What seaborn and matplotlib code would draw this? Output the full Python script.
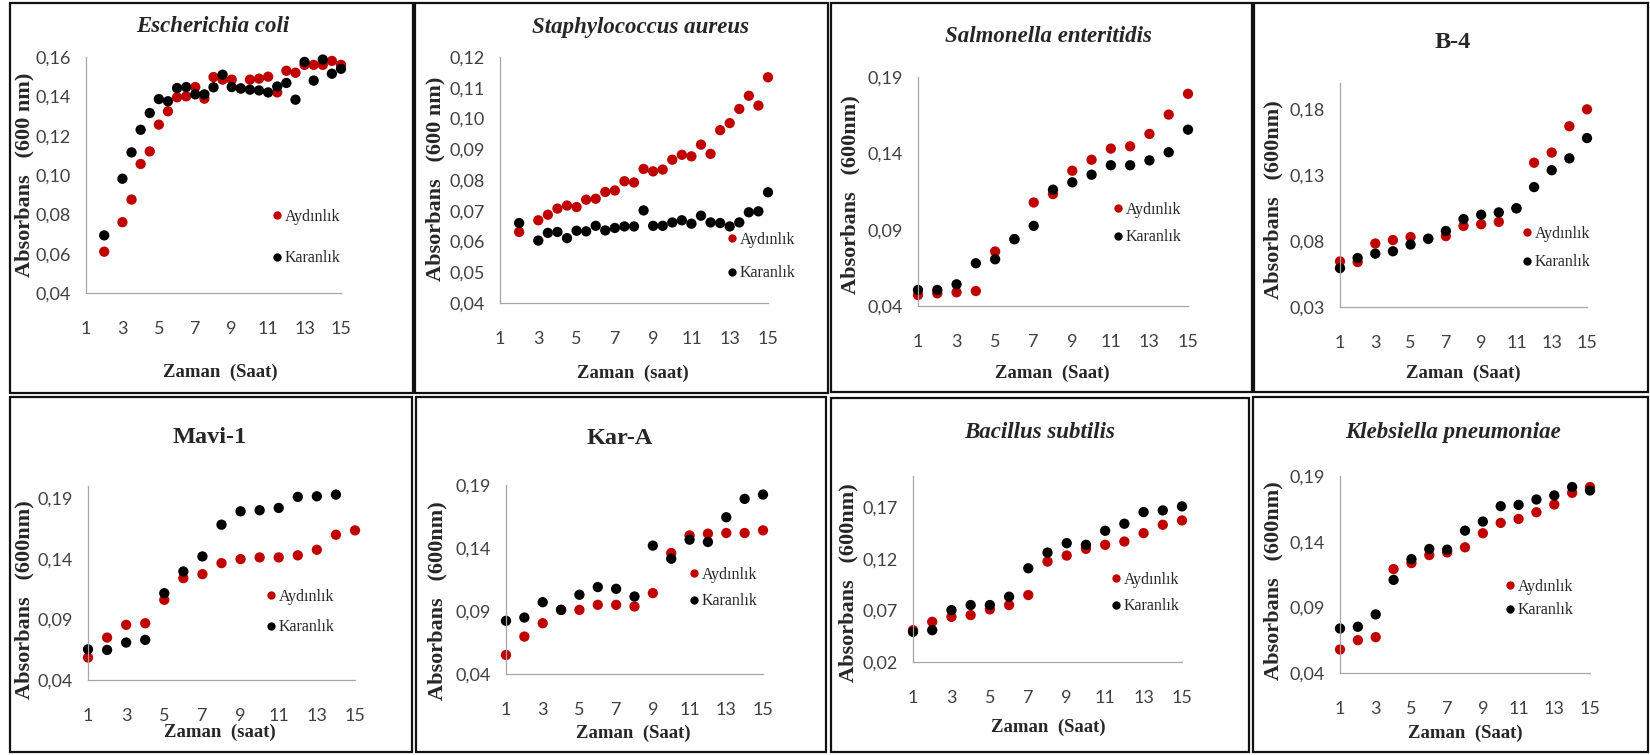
import matplotlib
matplotlib.use("Agg")
import matplotlib.pyplot as plt
import seaborn as sns
import pandas as pd
from matplotlib.lines import Line2D
from matplotlib.patches import Rectangle

# ---------------- data ----------------
half_hours = [2, 3, 3.5, 4, 4.5, 5, 5.5, 6, 6.5, 7, 7.5, 8, 8.5, 9, 9.5,
              10, 10.5, 11, 11.5, 12, 12.5, 13, 13.5, 14, 14.5, 15]
hours = [1, 2, 3, 4, 5, 6, 7, 8, 9, 10, 11, 12, 13, 14, 15]

ecoli_aydinlik = [0.061, 0.076, 0.0875, 0.1056, 0.112, 0.1256, 0.1324, 0.1395, 0.140, 0.1447,
                  0.1388, 0.1498, 0.1485, 0.1485, 0.144, 0.1485, 0.149, 0.150, 0.142, 0.153,
                  0.152, 0.156, 0.156, 0.156, 0.158, 0.156]
ecoli_karanlik = [0.0693, 0.0981, 0.1115, 0.123, 0.1315, 0.1386, 0.1375, 0.1442, 0.1447, 0.141,
                  0.141, 0.1446, 0.151, 0.1447, 0.144, 0.1434, 0.143, 0.142, 0.145, 0.1468,
                  0.1383, 0.1575, 0.148, 0.1587, 0.1515, 0.154]

saureus_aydinlik = [0.0631, 0.0669, 0.0687, 0.0707, 0.0717, 0.0712, 0.0736, 0.0739, 0.0761, 0.0766,
                    0.0796, 0.0792, 0.0836, 0.0828, 0.0834, 0.0866, 0.0882, 0.0877, 0.0915, 0.0885,
                    0.0962, 0.0985, 0.1031, 0.1074, 0.1042, 0.1134]
saureus_karanlik = [0.066, 0.0603, 0.0628, 0.0631, 0.0611, 0.0635, 0.0633, 0.0651, 0.0636, 0.0644,
                    0.0649, 0.0649, 0.0701, 0.0651, 0.0651, 0.0662, 0.0669, 0.0658, 0.0684, 0.0662,
                    0.066, 0.0649, 0.0662, 0.0695, 0.0698, 0.076]

salmonella_aydinlik = [0.0472, 0.0483, 0.049, 0.0498, 0.0757, 0.0838, 0.1078, 0.1133, 0.1286, 0.1358,
                       0.1431, 0.1446, 0.1527, 0.1654, 0.179]
salmonella_karanlik = [0.0505, 0.0505, 0.0542, 0.068, 0.0706, 0.0838, 0.0925, 0.1162, 0.121, 0.126,
                       0.1322, 0.1322, 0.1354, 0.1407, 0.1555]

b4_aydinlik = [0.0646, 0.0641, 0.0782, 0.0808, 0.0831, 0.0818, 0.0838, 0.0915, 0.0928, 0.0946,
               0.1049, 0.1395, 0.1472, 0.1672, 0.180]
b4_karanlik = [0.0595, 0.0672, 0.0705, 0.0723, 0.0774, 0.0818, 0.0877, 0.0967, 0.100, 0.1018,
               0.1049, 0.121, 0.1338, 0.1428, 0.1582]

mavi1_aydinlik = [0.0585, 0.075, 0.0855, 0.0868, 0.1061, 0.124, 0.1273, 0.1364, 0.1397, 0.1411,
                  0.1411, 0.1428, 0.1474, 0.1598, 0.1634]
mavi1_karanlik = [0.0653, 0.0648, 0.0709, 0.0731, 0.1116, 0.1295, 0.1419, 0.1681, 0.1791, 0.180,
                  0.1819, 0.191, 0.1915, 0.1929]

kara_aydinlik = [0.0551, 0.0697, 0.0803, 0.0909, 0.0909, 0.0949, 0.0949, 0.0936, 0.1042, 0.136,
                 0.150, 0.1514, 0.1519, 0.1519, 0.154]
kara_karanlik = [0.0822, 0.0848, 0.097, 0.0909, 0.1029, 0.109, 0.1076, 0.1015, 0.1419, 0.1315,
                 0.1466, 0.1448, 0.1644, 0.179, 0.1824]

bacillus_aydinlik = [0.0508, 0.0589, 0.0637, 0.0654, 0.0709, 0.0751, 0.0848, 0.1172, 0.123, 0.1295,
                     0.1334, 0.1366, 0.1447, 0.1528, 0.157]
bacillus_karanlik = [0.0492, 0.0508, 0.0702, 0.0751, 0.0751, 0.0832, 0.1107, 0.1259, 0.135, 0.1334,
                     0.147, 0.1538, 0.1651, 0.1667, 0.1706]

klebsiella_aydinlik = [0.0579, 0.065, 0.0673, 0.1191, 0.1237, 0.1298, 0.1318, 0.1357, 0.1464, 0.1543,
                       0.1573, 0.1624, 0.1683, 0.1772, 0.1816]
klebsiella_karanlik = [0.0739, 0.0752, 0.0846, 0.1109, 0.1267, 0.1344, 0.1339, 0.1484, 0.1553, 0.167,
                       0.168, 0.1721, 0.1752, 0.1816, 0.179]

titles = ["Escherichia coli", "Staphylococcus aureus", "Salmonella enteritidis", "B-4",
          "Mavi-1", "Kar-A", "Bacillus subtilis", "Klebsiella pneumoniae"]
title_italic = [True, True, True, False, False, False, True, True]
xlabels = ["Zaman  (Saat)", "Zaman  (saat)", "Zaman  (Saat)", "Zaman  (Saat)",
           "Zaman  (saat)", "Zaman  (Saat)", "Zaman  (Saat)", "Zaman  (Saat)"]
ylabels = ["Absorbans   (600 nm)", "Absorbans   (600 nm)", "Absorbans   (600nm)", "Absorbans   (600nm)",
           "Absorbans   (600nm)", "Absorbans   (600nm)", "Absorbans   (600nm)", "Absorbans   (600nm)"]
series_names = ["Aydınlık", "Karanlık"]
xtick_labels = ["1", "3", "5", "7", "9", "11", "13", "15"]
ytick_labels = [
    ["0,04", "0,06", "0,08", "0,10", "0,12", "0,14", "0,16"],
    ["0,04", "0,05", "0,06", "0,07", "0,08", "0,09", "0,10", "0,11", "0,12"],
    ["0,04", "0,09", "0,14", "0,19"],
    ["0,03", "0,08", "0,13", "0,18"],
    ["0,04", "0,09", "0,14", "0,19"],
    ["0,04", "0,09", "0,14", "0,19"],
    ["0,02", "0,07", "0,12", "0,17"],
    ["0,04", "0,09", "0,14", "0,19"],
]
y_limits = [(0.04, 0.16), (0.04, 0.12), (0.04, 0.19), (0.03, 0.20),
            (0.04, 0.20), (0.04, 0.19), (0.02, 0.20), (0.04, 0.19)]

panels = [
    (half_hours, ecoli_aydinlik, half_hours, ecoli_karanlik),
    (half_hours, saureus_aydinlik, half_hours, saureus_karanlik),
    (hours, salmonella_aydinlik, hours, salmonella_karanlik),
    (hours, b4_aydinlik, hours, b4_karanlik),
    (hours, mavi1_aydinlik, hours[:len(mavi1_karanlik)], mavi1_karanlik),
    (hours, kara_aydinlik, hours, kara_karanlik),
    (hours, bacillus_aydinlik, hours, bacillus_karanlik),
    (hours, klebsiella_aydinlik, hours, klebsiella_karanlik),
]

# ---------------- layout (pixels) ----------------
W, H = 1650, 755
frames = [(10, 3, 413, 393), (415, 3, 828, 393), (831, 3, 1252, 392), (1254, 3, 1648, 392),
          (10, 397, 412, 752), (416, 397, 826, 752), (831, 398, 1249, 752), (1253, 397, 1648, 752)]
axes_px = [(86, 57, 341, 293), (500, 57, 768, 303), (918, 77, 1188, 306), (1340, 83, 1587, 307),
           (88, 486, 355, 680), (506, 485, 763, 674), (913, 476, 1182, 662), (1340, 476, 1590, 673)]
title_pos = [(213, 27), (640, 27), (1048, 37), (1453, 43), (210, 437), (620, 438), (1040, 432), (1453, 433)]
xlabel_pos = [(220, 372), (633, 373), (1052, 373), (1463, 373), (220, 732), (633, 733), (1048, 727), (1465, 733)]
ylabel_pos = [(24, 175), (435, 179), (850, 195), (1273, 200), (24, 600), (437, 601), (848, 583), (1273, 581)]
legend_pos = [(276, 217, 258), (731, 240, 273), (1117, 210, 237), (1526, 234, 262),
              (270, 597, 627), (693, 575, 601), (1115, 580, 606), (1509, 587, 610)]

RED = "#c00000"
BLACK = "#000000"
GRID = "#a6a6a6"
TICKC = "#404040"

sns.set_theme(style="white")
plt.rcParams["font.family"] = ["Lato", "DejaVu Sans"]

fig = plt.figure(figsize=(W / 100, H / 100), dpi=100)
fig.patch.set_facecolor("white")


def fx(px):
    return px / W


def fy(py):
    return 1 - py / H


for i in range(8):
    xa, ya, xk, yk = panels[i]
    df = pd.DataFrame({
        "Zaman": list(xa) + list(xk),
        "Absorbans": list(ya) + list(yk),
        "Seri": [series_names[0]] * len(ya) + [series_names[1]] * len(yk),
    })
    x0, y0, x1, y1 = axes_px[i]
    ax = fig.add_axes([fx(x0), fy(y1), (x1 - x0) / W, (y1 - y0) / H])
    sns.scatterplot(data=df, x="Zaman", y="Absorbans", hue="Seri",
                    palette={series_names[0]: RED, series_names[1]: BLACK},
                    s=55, linewidth=0, edgecolor="none", legend=False, ax=ax, clip_on=False)
    ax.set_xlim(1, 15)
    ax.set_ylim(*y_limits[i])
    ax.set_xticks([float(t) for t in xtick_labels])
    ax.set_xticklabels(xtick_labels)
    yt = ytick_labels[i]
    ax.set_yticks([float(t.replace(",", ".")) for t in yt])
    ax.set_yticklabels(yt)
    ax.set_xlabel("")
    ax.set_ylabel("")
    ax.tick_params(axis="x", length=0, pad=20, labelsize=13, labelcolor=TICKC)
    ax.tick_params(axis="y", length=0, pad=11, labelsize=13, labelcolor=TICKC)
    for s in ["top", "right"]:
        ax.spines[s].set_visible(False)
    for s in ["left", "bottom"]:
        ax.spines[s].set_color(GRID)
        ax.spines[s].set_linewidth(0.9)
    ax.set_facecolor("none")

    # titles and axis labels
    tx, ty = title_pos[i]
    fig.text(fx(tx), fy(ty), titles[i], ha="center", va="center",
             family="Liberation Serif", weight="bold",
             style="italic" if title_italic[i] else "normal",
             size=16.5 if title_italic[i] else 17.5)
    lx, ly = xlabel_pos[i]
    fig.text(fx(lx), fy(ly), xlabels[i], ha="center", va="center",
             family="Liberation Serif", weight="bold", size=13.5)
    vx, vy = ylabel_pos[i]
    fig.text(fx(vx), fy(vy), ylabels[i], ha="center", va="center", rotation=90,
             family="Liberation Serif", weight="bold", size=16)

    # legend
    mx, ry, ky = legend_pos[i]
    pitch = ky - ry
    handles = [Line2D([], [], ls="", marker="o", markersize=6, color=RED, markeredgewidth=0),
               Line2D([], [], ls="", marker="o", markersize=6, color=BLACK, markeredgewidth=0)]
    ax.legend(handles, series_names, loc="center left",
              bbox_to_anchor=(fx(mx - 5), fy((ry + ky) / 2)), bbox_transform=fig.transFigure,
              frameon=False, borderpad=0, borderaxespad=0, handlelength=0.7,
              handletextpad=0.15, labelspacing=max((pitch - 15) / 16, 0.2),
              prop={"family": "Liberation Serif", "size": 11.5})

    # panel frame
    fx0, fy0, fx1, fy1 = frames[i]
    fig.patches.append(Rectangle((fx(fx0), fy(fy1)), (fx1 - fx0) / W, (fy1 - fy0) / H,
                                 transform=fig.transFigure, fill=False,
                                 edgecolor="#111111", linewidth=1.6))

fig.savefig("out.png", dpi=100, facecolor="white")
